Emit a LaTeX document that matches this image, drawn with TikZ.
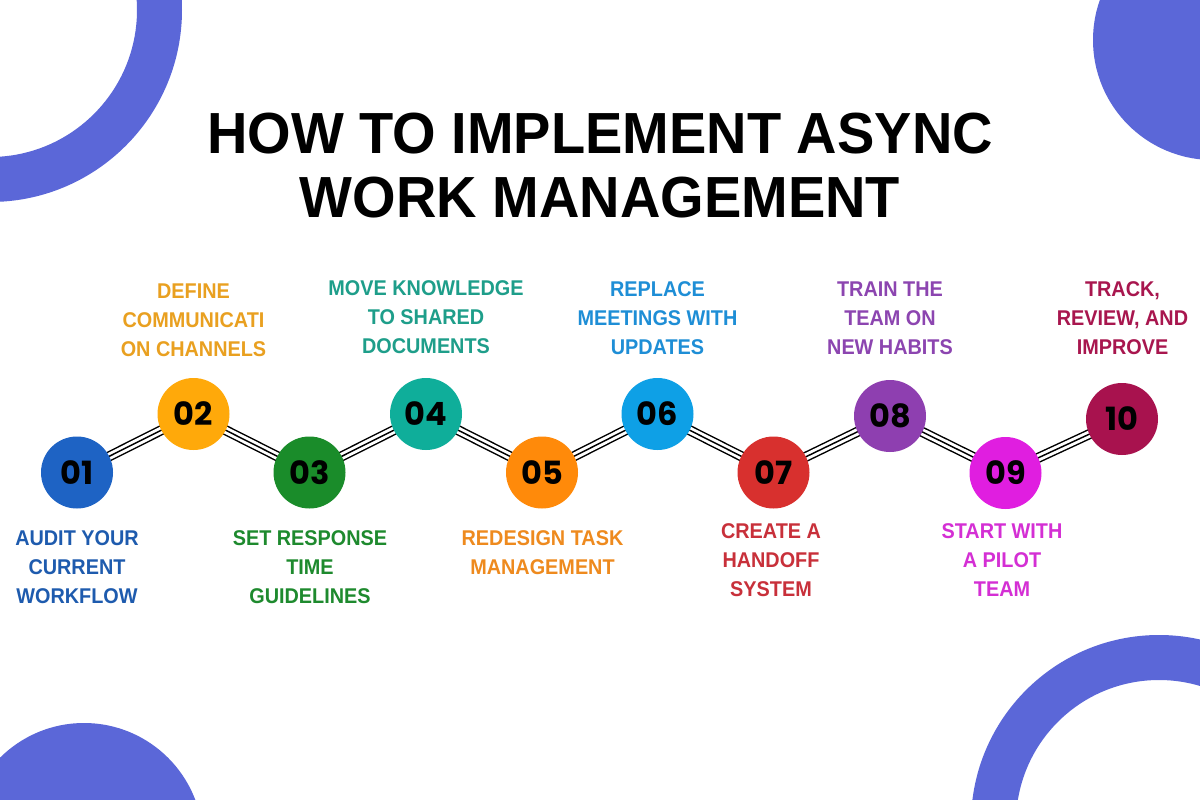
\documentclass[tikz,border=0pt]{standalone}
\usepackage{fontspec}
\newfontfamily\titlefont{Liberation Sans}[FakeStretch=0.965]
\newfontfamily\labelfont{Liberation Sans}[FakeStretch=0.93]
\newfontfamily\numfont{Poppins}
\usetikzlibrary{backgrounds}

\begin{document}
\begin{tikzpicture}[x=0.75pt,y=0.75pt,yscale=-1,xscale=1,
  numdisc/.style={circle,inner sep=0pt,minimum size=54pt,text=black,font=\numfont\bfseries\fontsize{24}{24}\selectfont},
  steplabel/.style={inner sep=0pt,align=center,font=\labelfont\bfseries\fontsize{16}{21.75}\selectfont},
  tripleline/.style={draw=black,line width=7.6pt,postaction={draw=white,line width=5.4pt},postaction={draw=black,line width=1.1pt}}]
\useasboundingbox (0,0) rectangle (1200,800);

% Title
\draw (600,153) node [anchor=base][inner sep=0pt][font=\titlefont\bfseries\fontsize{43.5}{45}\selectfont] (title1) {HOW TO IMPLEMENT ASYNC};
\draw (600,217) node [anchor=base][inner sep=0pt][font=\titlefont\bfseries\fontsize{43.5}{45}\selectfont] (title2) {WORK MANAGEMENT};

%Shape: Circle
\node [numdisc, fill={rgb, 255:red, 30; green, 99; blue, 196 }] (c01) at (77,472.5) {01};
\node [numdisc, fill={rgb, 255:red, 255; green, 169; blue, 10 }] (c02) at (193.5,414) {02};
\node [numdisc, fill={rgb, 255:red, 26; green, 140; blue, 42 }] (c03) at (309.5,472.5) {03};
\node [numdisc, fill={rgb, 255:red, 15; green, 174; blue, 154 }] (c04) at (426,414) {04};
\node [numdisc, fill={rgb, 255:red, 255; green, 138; blue, 10 }] (c05) at (542,472.5) {05};
\node [numdisc, fill={rgb, 255:red, 14; green, 160; blue, 230 }] (c06) at (657.5,414) {06};
\node [numdisc, fill={rgb, 255:red, 216; green, 48; blue, 46 }] (c07) at (773.5,472.5) {07};
\node [numdisc, fill={rgb, 255:red, 142; green, 63; blue, 176 }] (c08) at (890,416) {08};
\node [numdisc, fill={rgb, 255:red, 224; green, 30; blue, 224 }] (c09) at (1005.5,473) {09};
\node [numdisc, fill={rgb, 255:red, 168; green, 18; blue, 78 }] (c10) at (1122,419) {10};

% Text Node
\node [steplabel, anchor=north, text={rgb, 255:red, 30; green, 91; blue, 174 }] (t01) at (77,530) {AUDIT YOUR\\CURRENT\\WORKFLOW};
% Text Node
\node [steplabel, anchor=south, text={rgb, 255:red, 233; green, 160; blue, 32 }] (t02) at (193.5,357) {DEFINE\\COMMUNICATI\\ON CHANNELS};
% Text Node
\node [steplabel, anchor=north, text={rgb, 255:red, 30; green, 138; blue, 46 }] (t03) at (310,530) {SET RESPONSE\\TIME\\GUIDELINES};
% Text Node
\node [steplabel, anchor=south, text={rgb, 255:red, 30; green, 158; blue, 138 }] (t04) at (426,353.5) {MOVE KNOWLEDGE\\TO SHARED\\DOCUMENTS};
% Text Node
\node [steplabel, anchor=north, text={rgb, 255:red, 238; green, 138; blue, 30 }] (t05) at (542.5,530) {REDESIGN TASK\\MANAGEMENT};
% Text Node
\node [steplabel, anchor=south, text={rgb, 255:red, 30; green, 142; blue, 214 }] (t06) at (657.5,355) {REPLACE\\MEETINGS WITH\\UPDATES};
% Text Node
\node [steplabel, anchor=north, text={rgb, 255:red, 200; green, 48; blue, 58 }] (t07) at (771,523) {CREATE A\\HANDOFF\\SYSTEM};
% Text Node
\node [steplabel, anchor=south, text={rgb, 255:red, 140; green, 69; blue, 176 }] (t08) at (890,355) {TRAIN THE\\TEAM ON\\NEW HABITS};
% Text Node
\node [steplabel, anchor=north, text={rgb, 255:red, 212; green, 47; blue, 212 }] (t09) at (1002,523) {START WITH\\A PILOT\\TEAM};
% Text Node
\node [steplabel, anchor=south, text={rgb, 255:red, 168; green, 22; blue, 78 }] (t10) at (1122.5,355) {TRACK,\\REVIEW, AND\\IMPROVE};

\begin{scope}[on background layer]
\clip (0,0) rectangle (1200,800);
\fill [white] (0,0) rectangle (1200,800);
%Shape: Ring top left
\fill [color={rgb, 255:red, 91; green, 103; blue, 216 }, even odd rule] (-10,10) circle (192) (-10,10) circle (147);
%Shape: Disc top right
\fill [color={rgb, 255:red, 91; green, 103; blue, 216 }] (1213,40) circle (120);
%Shape: Disc bottom left
\fill [color={rgb, 255:red, 91; green, 103; blue, 216 }] (84,842) circle (119);
%Shape: Ring bottom right
\fill [color={rgb, 255:red, 91; green, 103; blue, 216 }, even odd rule] (1159,823) circle (188) (1159,823) circle (143);

%Straight Lines
\draw [tripleline] (c01.center) -- (c02.center) ;
\draw [tripleline] (c02.center) -- (c03.center) ;
\draw [tripleline] (c03.center) -- (c04.center) ;
\draw [tripleline] (c04.center) -- (c05.center) ;
\draw [tripleline] (c05.center) -- (c06.center) ;
\draw [tripleline] (c06.center) -- (c07.center) ;
\draw [tripleline] (c07.center) -- (c08.center) ;
\draw [tripleline] (c08.center) -- (c09.center) ;
\draw [tripleline] (c09.center) -- (c10.center) ;
\end{scope}

\end{tikzpicture}
\end{document}
